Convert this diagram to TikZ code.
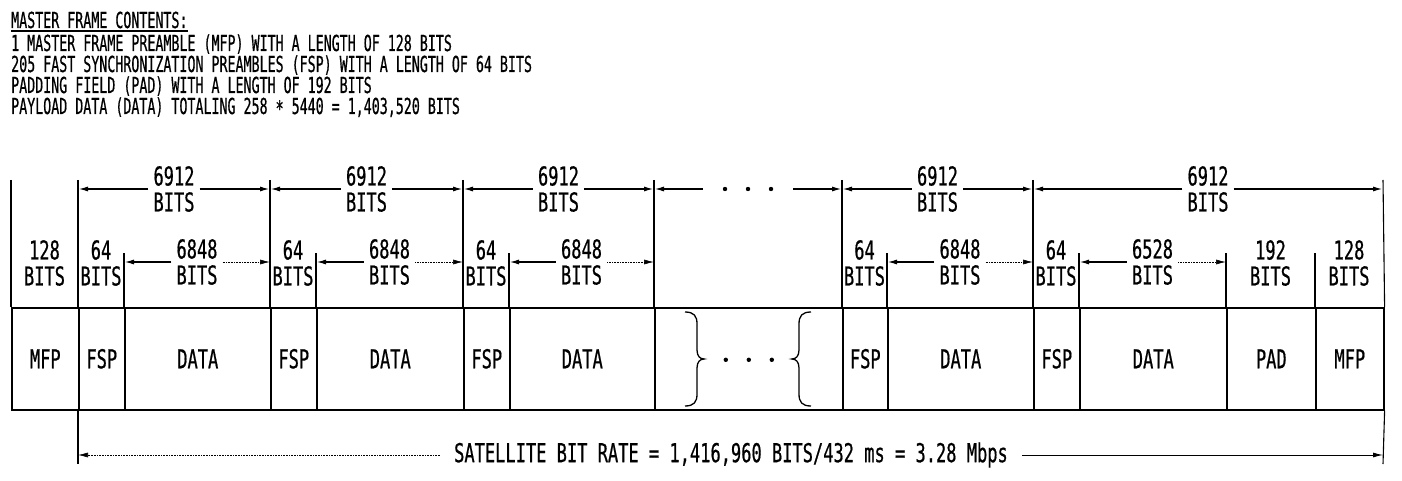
\documentclass[tikz,border=0pt]{standalone}
\usepackage{fontspec}
\setmainfont[FakeStretch=0.655,FakeBold=0.6]{DejaVu Sans Mono}
\newfontfamily\hdrfont[FakeStretch=0.605,FakeBold=0.6]{DejaVu Sans Mono}
\usetikzlibrary{arrows.meta}
\tikzset{
  cell/.style={draw, line width=1.6pt, inner sep=1pt, minimum height=102pt,
    anchor=north west, font=\fontsize{26}{27}\selectfont},
  ext/.style={line width=1.1pt},
  lbl/.style={align=center, inner sep=5pt, font=\fontsize{26}{26}\selectfont},
  tipA/.tip={Latex[length=10pt,width=5pt]},
  dimthick/.style={line width=1.6pt, -tipA},
  dimthin/.style={line width=0.6pt, densely dotted, -tipA},
  dimsolid/.style={line width=0.9pt, -tipA},
  hdr/.style={anchor=base west, inner sep=0pt, font=\hdrfont\fontsize{22}{21}\selectfont},
  dotmark/.style={inner sep=0pt, minimum width=90pt, minimum height=6pt},
}
\begin{document}
\begin{tikzpicture}[x=1pt,y=-1pt]
\useasboundingbox (0,0) rectangle (1402,481);

% header
\node[hdr] (h1) at (11,28) {MASTER FRAME CONTENTS:};
\draw[line width=1.5pt] ([yshift=-3pt]h1.base west) -- ([yshift=-3pt]h1.base east);
\node[hdr] (h2) at (11,51) {1 MASTER FRAME PREAMBLE (MFP) WITH A LENGTH OF 128 BITS};
\node[hdr] (h3) at (11,72) {205 FAST SYNCHRONIZATION PREAMBLES (FSP) WITH A LENGTH OF 64 BITS};
\node[hdr] (h4) at (11,93) {PADDING FIELD (PAD) WITH A LENGTH OF 192 BITS};
\node[hdr] (h5) at (11,114) {PAYLOAD DATA (DATA) TOTALING 258 \raisebox{-0.2ex}{*} 5440 = 1,403,520 BITS};

% frame cells
\node[cell, minimum width=67pt]  (mfpA)  at (11,307)   {MFP};
\node[cell, minimum width=46pt]  (fspA)  at (78,307)   {FSP};
\node[cell, minimum width=146pt] (dataA) at (124,307)  {DATA};
\node[cell, minimum width=46pt]  (fspB)  at (270,307)  {FSP};
\node[cell, minimum width=147pt] (dataB) at (316,307)  {DATA};
\node[cell, minimum width=46pt]  (fspC)  at (463,307)  {FSP};
\node[cell, minimum width=145pt] (dataC) at (509,307)  {DATA};
\node[cell, minimum width=188pt] (gap)   at (654,307)  {};
\node[cell, minimum width=45pt]  (fspD)  at (842,307)  {FSP};
\node[cell, minimum width=146pt] (dataD) at (887,307)  {DATA};
\node[cell, minimum width=46pt]  (fspE)  at (1033,307) {FSP};
\node[cell, minimum width=147pt] (dataE) at (1079,307) {DATA};
\node[cell, minimum width=89pt]  (pad)   at (1226,307) {PAD};
\node[cell, minimum width=68pt]  (mfpB)  at (1315,307) {MFP};

% braces and dots in the gap cell
\draw[line width=1.3pt] (685,312) .. controls (694,312) and (697,316) .. (697,324) -- (697,350)
  .. controls (697,356) and (700,359) .. (704,359) .. controls (700,359) and (697,362) .. (697,368)
  -- (697,394) .. controls (697,402) and (694,406) .. (685,406);
\draw[line width=1.3pt] (811,312) .. controls (802,312) and (799,316) .. (799,324) -- (799,350)
  .. controls (799,356) and (796,359) .. (792,359) .. controls (796,359) and (799,362) .. (799,368)
  -- (799,394) .. controls (799,402) and (802,406) .. (811,406);
\foreach \dx in {-23,0,23} \fill ([xshift=\dx pt]gap.center) ++(0,1) circle (2.2);

% extension lines (major)
\coordinate (e11) at (11,180);
\coordinate (e78) at (78,180);
\coordinate (e270) at (270,180);
\coordinate (e463) at (463,180);
\coordinate (e654) at (654,180);
\coordinate (e842) at (842,180);
\coordinate (e1033) at (1033,180);
\coordinate (e1383) at (1383,180);
\draw[ext] (e11) -- (mfpA.north west);
\draw[ext] (e78) -- (fspA.north west);
\draw[ext] (e270) -- (fspB.north west);
\draw[ext] (e463) -- (fspC.north west);
\draw[ext] (e654) -- (gap.north west);
\draw[ext] (e842) -- (fspD.north west);
\draw[ext] (e1033) -- (fspE.north west);
\draw[ext] (e1383) -- (mfpB.north east);
% extension lines (minor)
\coordinate (m124) at (124,253);
\coordinate (m316) at (316,253);
\coordinate (m509) at (509,253);
\coordinate (m887) at (887,253);
\coordinate (m1079) at (1079,253);
\coordinate (m1226) at (1226,253);
\coordinate (m1315) at (1315,253);
\draw[ext] (m124) -- (dataA.north west);
\draw[ext] (m316) -- (dataB.north west);
\draw[ext] (m509) -- (dataC.north west);
\draw[ext] (m887) -- (dataD.north west);
\draw[ext] (m1079) -- (dataE.north west);
\draw[ext] (m1226) -- (pad.north west);
\draw[ext] (m1315) -- (mfpB.north west);

% top dimensions: 6912 BITS
\node[lbl] (s1) at (174,189) {6912\\BITS};
\draw[dimthick] (s1.west) -- (s1.west -| e78);
\draw[dimthick] (s1.east) -- (s1.east -| e270);
\node[lbl] (s2) at (366.5,189) {6912\\BITS};
\draw[dimthick] (s2.west) -- (s2.west -| e270);
\draw[dimthick] (s2.east) -- (s2.east -| e463);
\node[lbl] (s3) at (558.5,189) {6912\\BITS};
\draw[dimthick] (s3.west) -- (s3.west -| e463);
\draw[dimthick] (s3.east) -- (s3.east -| e654);
\node[dotmark] (tdots) at (748,189) {};
\foreach \dx in {-23,0,23} \fill ([xshift=\dx pt]tdots.center) circle (2.2);
\draw[dimthick] (tdots.west) -- (tdots.west -| e654);
\draw[dimthick] (tdots.east) -- (tdots.east -| e842);
\node[lbl] (s4) at (937.5,189) {6912\\BITS};
\draw[dimthick] (s4.west) -- (s4.west -| e842);
\draw[dimthick] (s4.east) -- (s4.east -| e1033);
\node[lbl] (s5) at (1208,189) {6912\\BITS};
\draw[dimthick] (s5.west) -- (s5.west -| e1033);
\draw[dimthick] (s5.east) -- (s5.east -| e1383);

% second row labels
\node[lbl] (l128a) at (44.5,263) {128\\BITS};
\node[lbl] (l64a) at (101,263) {64\\BITS};
\node[lbl] (l64b) at (293,263) {64\\BITS};
\node[lbl] (l64c) at (486,263) {64\\BITS};
\node[lbl] (l64d) at (864.5,263) {64\\BITS};
\node[lbl] (l64e) at (1056,263) {64\\BITS};
\node[lbl] (l192) at (1270.5,263) {192\\BITS};
\node[lbl] (l128b) at (1349,263) {128\\BITS};

% second row dimensions
\node[lbl] (r1) at (197,262) {6848\\BITS};
\draw[dimthick] (r1.west) -- (r1.west -| m124);
\draw[dimthin] (r1.east) -- (r1.east -| e270);
\node[lbl] (r2) at (389.5,262) {6848\\BITS};
\draw[dimthick] (r2.west) -- (r2.west -| m316);
\draw[dimthin] (r2.east) -- (r2.east -| e463);
\node[lbl] (r3) at (581.5,262) {6848\\BITS};
\draw[dimthick] (r3.west) -- (r3.west -| m509);
\draw[dimthin] (r3.east) -- (r3.east -| e654);
\node[lbl] (r4) at (960,262) {6848\\BITS};
\draw[dimthick] (r4.west) -- (r4.west -| m887);
\draw[dimthin] (r4.east) -- (r4.east -| e1033);
\node[lbl] (r5) at (1152.5,262) {6528\\BITS};
\draw[dimthick] (r5.west) -- (r5.west -| m1079);
\draw[dimthin] (r5.east) -- (r5.east -| m1226);

% bottom dimension
\coordinate (bL) at (78,464);
\coordinate (bR) at (1383,464);
\draw[ext] (fspA.south west) -- (bL);
\draw[ext] (mfpB.south east) -- (bR);
\node[lbl, inner sep=14pt] (rate) at (731,455) {SATELLITE BIT RATE = 1,416,960 BITS/432 ms = 3.28 Mbps};
\draw[dimthin] (rate.west) -- (rate.west -| bL);
\draw[dimsolid] (rate.east) -- (rate.east -| bR);
\end{tikzpicture}
\end{document}
